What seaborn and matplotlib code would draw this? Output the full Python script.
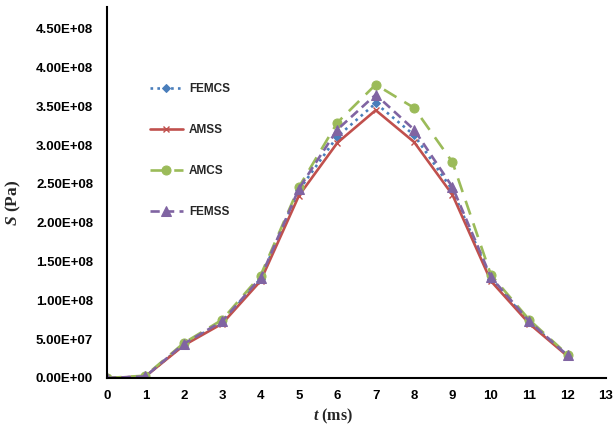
import matplotlib
matplotlib.use("Agg")
import matplotlib.pyplot as plt
import seaborn as sns
import pandas as pd
import numpy as np
from matplotlib.ticker import FuncFormatter, MultipleLocator

# 数据
t = [0, 1, 2, 3, 4, 5, 6, 7, 8, 9, 10, 11, 12]
femcs = [0, 0.2e7, 4.3e7, 7.2e7, 1.28e8, 2.42e8, 3.11e8, 3.54e8, 3.13e8, 2.42e8, 1.28e8, 0.72e8, 0.29e8]
amss = [0, 0.2e7, 4.2e7, 7.0e7, 1.25e8, 2.35e8, 3.03e8, 3.45e8, 3.04e8, 2.36e8, 1.25e8, 0.70e8, 0.28e8]
amcs = [0, 0.3e7, 4.5e7, 7.5e7, 1.32e8, 2.46e8, 3.29e8, 3.78e8, 3.48e8, 2.78e8, 1.33e8, 0.75e8, 0.30e8]
femss = [0, 0.2e7, 4.4e7, 7.3e7, 1.29e8, 2.44e8, 3.20e8, 3.65e8, 3.20e8, 2.46e8, 1.30e8, 0.73e8, 0.29e8]
names = ['FEMCS', 'AMSS', 'AMCS', 'FEMSS']

sns.set_style('white')
plt.rcParams['font.family'] = ['Liberation Sans', 'DejaVu Sans']
plt.rcParams['mathtext.fontset'] = 'custom'
plt.rcParams['mathtext.bfit'] = 'Liberation Serif:italic:bold'
plt.rcParams['mathtext.rm'] = 'Liberation Serif'

fig = plt.figure(figsize=(6.16, 4.25), dpi=100)
ax = fig.add_axes([0.1737, 0.1106, 0.8101, 0.873])

styles = {
    'FEMCS': dict(color='#4A7EBB', dashes=(1, 1.6), marker='D', markersize=4),
    'AMSS': dict(color='#C0504D', dashes=(None, None), marker='x', markersize=5, mew=1),
    'AMCS': dict(color='#9BBB59', dashes=(5.5, 3.5), marker='o', markersize=6.5),
    'FEMSS': dict(color='#8064A2', dashes=(3.5, 2), marker='^', markersize=7),
}
series = [femcs, amss, amcs, femss]
for name, vals in zip(names, series):
    df = pd.DataFrame({'t': t, 'S': vals})
    st = dict(styles[name])
    d = st.pop('dashes')
    sns.lineplot(data=df, x='t', y='S', ax=ax, label=name, linewidth=1.9, **st)
    l = ax.lines[-1]
    if d[0] is None:
        l.set_linestyle('-')
    else:
        l.set_dashes(d)
    l.set_markeredgecolor(st['color'])

ax.set_xlim(0, 13)
ax.set_ylim(0, 4.78e8)
ax.xaxis.set_major_locator(MultipleLocator(1))
ax.yaxis.set_major_locator(MultipleLocator(5e7))
ax.yaxis.set_major_formatter(FuncFormatter(lambda v, p: '%.2E' % v))
ax.tick_params(direction='in', length=4, width=1.2, labelsize=9.5, colors='black')
ax.tick_params(axis='y', pad=10)
ax.tick_params(axis='x', pad=9)
for lab in ax.get_xticklabels() + ax.get_yticklabels():
    lab.set_fontweight('bold')

for s in ['top', 'right']:
    ax.spines[s].set_visible(False)
for s in ['left', 'bottom']:
    ax.spines[s].set_color('black')
    ax.spines[s].set_linewidth(1.5)

ax.set_xlabel(r'$\mathbfit{t}$ (ms)', fontsize=11.5, fontweight='bold',
              fontfamily='Liberation Serif')
ax.set_ylabel(r'$\mathbfit{S}$ (Pa)', fontsize=12.5, fontweight='bold',
              fontfamily='Liberation Serif')
ax.xaxis.set_label_coords(0.453, -0.078)
ax.yaxis.set_label_coords(-0.168, 0.472)

ax.legend(loc='upper left', bbox_to_anchor=(0.086, 0.795), frameon=False,
          handlelength=2.8, handletextpad=0.5, labelspacing=2.45,
          borderpad=0, borderaxespad=0, prop={'weight': 'bold', 'size': 8.5})

fig.savefig('out.png', dpi=100)
